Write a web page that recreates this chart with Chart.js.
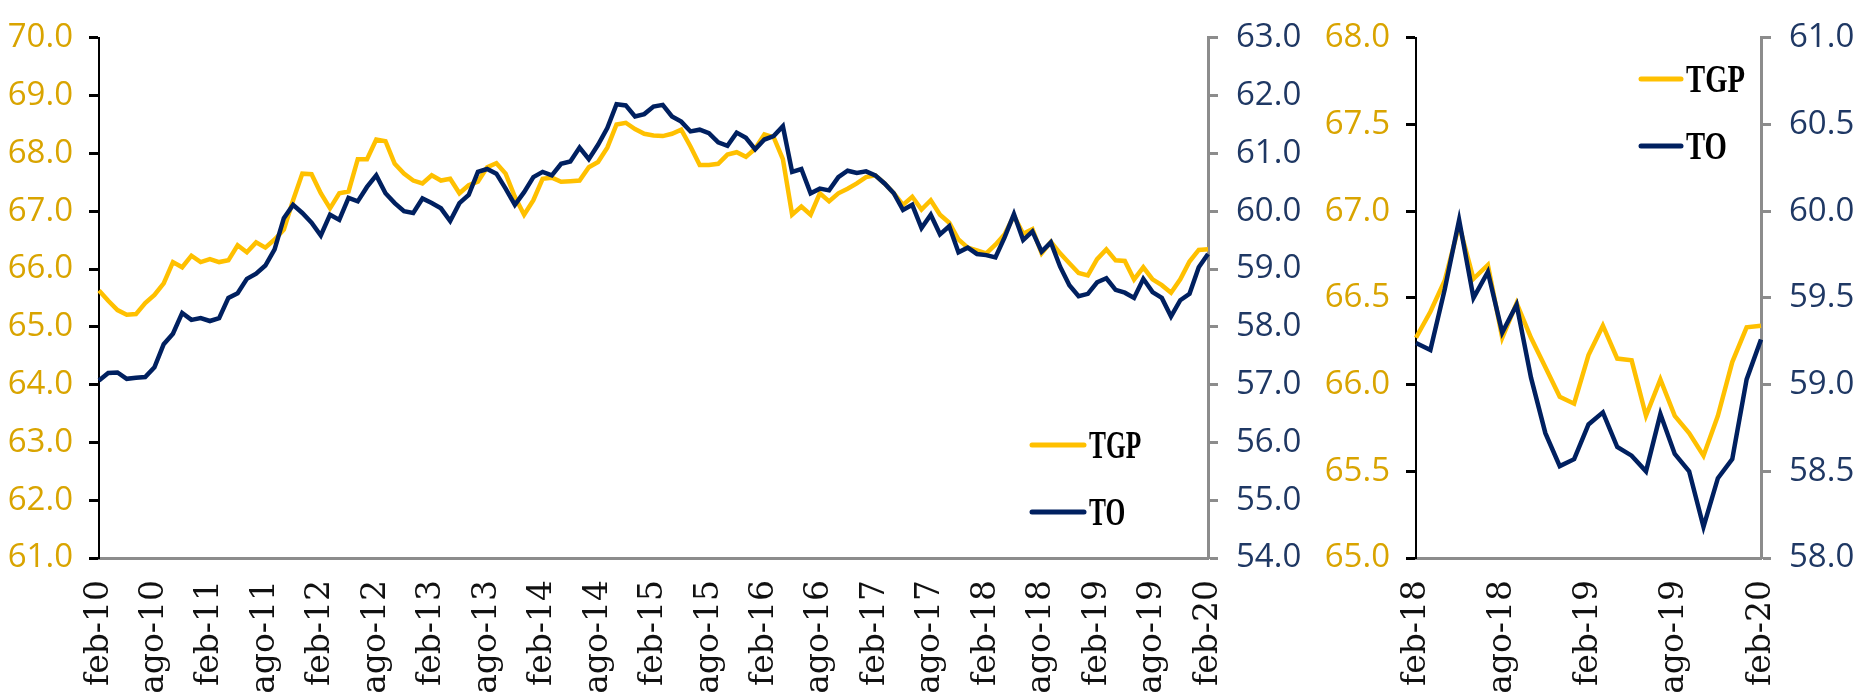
<!DOCTYPE html>
<html>
<head>
<meta charset="utf-8">
<script src="https://cdn.jsdelivr.net/npm/chart.js@4.4.0/dist/chart.umd.min.js"></script>
<style>
    html, body { margin: 0; padding: 0; background: #ffffff; }
    #wrap { position: relative; width: 1866px; height: 700px; overflow: hidden; }
    #chartLong { position: absolute; left: 0; top: 0; }
    #chartShort { position: absolute; left: 1320px; top: 0; }
</style>
</head>
<body>
<div id="wrap">
    <canvas id="chartLong" width="1320" height="700"></canvas>
    <canvas id="chartShort" width="546" height="700"></canvas>
</div>
<script>
// MONTH NAMES (SPANISH) AND RANGE: FEB-10 .. FEB-20
var monthNames = ["ene", "feb", "mar", "abr", "may", "jun", "jul", "ago", "sep", "oct", "nov", "dic"];
var firstYear = 10, firstMonth = 1, monthCount = 121;

var categories = [];
for (var m = 0; m < monthCount; m++) {
    var k = firstMonth + m;
    var yy = firstYear + Math.floor(k / 12);
    categories.push(monthNames[k % 12] + "-" + yy);
}

// TASA GLOBAL DE PARTICIPACION (LEFT AXIS)
var tgp = [
    65.63, 65.45, 65.29, 65.21, 65.22, 65.41, 65.55, 65.75, 66.12, 66.03,
    66.23, 66.12, 66.17, 66.12, 66.15, 66.41, 66.29, 66.46, 66.37, 66.51,
    66.68, 67.19, 67.65, 67.64, 67.31, 67.05, 67.31, 67.34, 67.90, 67.90,
    68.24, 68.21, 67.82, 67.65, 67.53, 67.48, 67.62, 67.53, 67.56, 67.31,
    67.45, 67.51, 67.76, 67.83, 67.65, 67.25, 66.94, 67.19, 67.56, 67.58,
    67.51, 67.52, 67.53, 67.76, 67.85, 68.10, 68.50, 68.53, 68.42, 68.34,
    68.31, 68.30, 68.34, 68.41, 68.12, 67.80, 67.80, 67.82, 67.98, 68.02,
    67.94, 68.08, 68.33, 68.28, 67.90, 66.94, 67.08, 66.94, 67.31, 67.17,
    67.31, 67.39, 67.48, 67.59, 67.62, 67.48, 67.31, 67.11, 67.25, 67.03,
    67.19, 66.94, 66.80, 66.51, 66.37, 66.32, 66.27, 66.42, 66.60, 66.92,
    66.61, 66.69, 66.27, 66.47, 66.27, 66.10, 65.93, 65.89, 66.17, 66.34,
    66.15, 66.14, 65.82, 66.03, 65.82, 65.72, 65.59, 65.82, 66.13, 66.33,
    66.34
];

// TASA DE OCUPACION (RIGHT AXIS)
var to = [
    57.07, 57.20, 57.21, 57.10, 57.12, 57.13, 57.30, 57.70, 57.88, 58.24,
    58.12, 58.15, 58.10, 58.15, 58.50, 58.58, 58.83, 58.92, 59.06, 59.34,
    59.88, 60.11, 59.97, 59.80, 59.58, 59.94, 59.85, 60.23, 60.17, 60.42,
    60.62, 60.31, 60.14, 60.00, 59.97, 60.22, 60.14, 60.05, 59.83, 60.14,
    60.28, 60.68, 60.73, 60.65, 60.39, 60.11, 60.33, 60.59, 60.68, 60.62,
    60.82, 60.86, 61.10, 60.90, 61.15, 61.44, 61.85, 61.83, 61.64, 61.68,
    61.81, 61.84, 61.64, 61.55, 61.38, 61.41, 61.35, 61.19, 61.13, 61.36,
    61.27, 61.07, 61.24, 61.30, 61.47, 60.68, 60.73, 60.31, 60.39, 60.36,
    60.59, 60.70, 60.66, 60.69, 60.62, 60.48, 60.31, 60.02, 60.11, 59.71,
    59.94, 59.60, 59.74, 59.29, 59.37, 59.26, 59.24, 59.20, 59.55, 59.95,
    59.50, 59.65, 59.30, 59.46, 59.04, 58.72, 58.53, 58.57, 58.77, 58.84,
    58.64, 58.59, 58.50, 58.83, 58.60, 58.50, 58.18, 58.46, 58.57, 59.03,
    59.26
];

// ZOOM PANEL STARTS AT FEB-18
var zoomStart = 96;

// AXIS RANGES
var longLeft = { min: 61, max: 70, step: 1 };
var longRight = { min: 54, max: 63, step: 1 };
var shortLeft = { min: 65, max: 68, step: 0.5 };
var shortRight = { min: 58, max: 61, step: 0.5 };

var colorTGP = "#FFC000";
var colorTO = "#002060";
var tickFont = { family: "'Open Sans', 'Noto Sans', sans-serif", size: 33 };
var dateFont = { family: "'DejaVu Serif', serif", size: 33 };

// LEGEND DRAWN INSIDE THE PLOT (LINE + CONDENSED BOLD SERIF TEXT)
var lineLegend = {
    id: 'lineLegend',
    afterDraw: function(chart, args, opts) {
        var ctx = chart.ctx;
        var sets = chart.data.datasets;
        ctx.save();
        for (var i = 0; i < sets.length; i++) {
            var y = opts.y + i * opts.gap;
            ctx.strokeStyle = sets[i].borderColor;
            ctx.lineWidth = 5;
            ctx.lineCap = 'round';
            ctx.beginPath();
            ctx.moveTo(opts.x, y);
            ctx.lineTo(opts.x + opts.len, y);
            ctx.stroke();

            ctx.save();
            ctx.translate(opts.x + opts.len + 5, y + 13);
            ctx.scale(opts.squeeze, 1);
            ctx.fillStyle = "#000000";
            ctx.font = "bold 41px 'Liberation Serif', serif";
            ctx.textBaseline = 'alphabetic';
            ctx.fillText(sets[i].label, 0, 0);
            ctx.restore();
        }
        ctx.restore();
    }
};

function makeChart(canvasId, labels, tgpData, toData, left, right, sizes, legendPos) {
    var ctx = document.getElementById(canvasId).getContext('2d');
    return new Chart(ctx, {
        type: 'line',
        data: {
            labels: labels,
            datasets: [{
                label: "TGP",
                data: tgpData,
                yAxisID: 'yL',
                borderColor: colorTGP,
                borderWidth: 4.5,
                pointRadius: 0,
                tension: 0,
                order: 1
            }, {
                label: "TO",
                data: toData,
                yAxisID: 'yR',
                borderColor: colorTO,
                borderWidth: 4.5,
                pointRadius: 0,
                tension: 0,
                order: 0
            }]
        },
        options: {
            responsive: false,
            animation: false,
            devicePixelRatio: 1,
            layout: { padding: { top: 28, left: 0, right: 0, bottom: 0 } },
            plugins: {
                legend: { display: false },
                tooltip: { enabled: false },
                lineLegend: legendPos
            },
            scales: {
                x: {
                    type: 'category',
                    offset: false,
                    grid: { display: false },
                    border: { display: true, color: "#8c8c8c", width: 3 },
                    ticks: {
                        autoSkip: false,
                        maxRotation: 90,
                        minRotation: 90,
                        padding: 14,
                        color: "#111111",
                        font: dateFont,
                        callback: function(val, index) {
                            return index % 6 === 0 ? this.getLabelForValue(val) : null;
                        }
                    },
                    afterFit: function(scale) { scale.height = 700 - 558; }
                },
                yL: {
                    position: 'left',
                    min: left.min,
                    max: left.max,
                    grid: { display: true, drawOnChartArea: false, drawTicks: true, tickLength: 10, tickWidth: 3, tickColor: "#000000" },
                    border: { display: true, color: "#000000", width: 2 },
                    ticks: {
                        stepSize: left.step,
                        padding: 16,
                        color: "#D9A400",
                        font: tickFont,
                        callback: function(v) { return v.toFixed(1); }
                    },
                    afterFit: function(scale) { scale.width = sizes.left; }
                },
                yR: {
                    position: 'right',
                    min: right.min,
                    max: right.max,
                    grid: { display: true, drawOnChartArea: false, drawTicks: true, tickLength: 10, tickWidth: 3, tickColor: "#8c8c8c" },
                    border: { display: true, color: "#8c8c8c", width: 3 },
                    ticks: {
                        stepSize: right.step,
                        padding: 18,
                        color: "#1F3864",
                        font: tickFont,
                        callback: function(v) { return v.toFixed(1); }
                    },
                    afterFit: function(scale) { scale.width = sizes.right; }
                }
            }
        },
        plugins: [lineLegend]
    });
}

makeChart("chartLong", categories, tgp, to, longLeft, longRight,
    { left: 99, right: 112 },
    { x: 1032, y: 445, gap: 67, len: 52, squeeze: 0.62 });

makeChart("chartShort", categories.slice(zoomStart), tgp.slice(zoomStart), to.slice(zoomStart), shortLeft, shortRight,
    { left: 96, right: 105 },
    { x: 321, y: 79, gap: 67, len: 40, squeeze: 0.7 });
</script>
</body>
</html>
